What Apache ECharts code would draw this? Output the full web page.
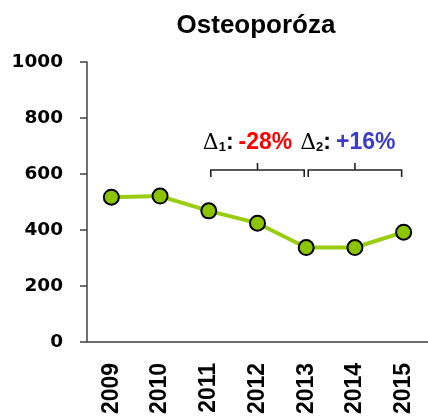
<!DOCTYPE html>
<html>
<head>
<meta charset="utf-8">
<script src="https://cdn.jsdelivr.net/npm/echarts@6/dist/echarts.min.js"></script>
<style>
  html, body { margin: 0; padding: 0; background: #fff; }
  #chart { width: 428px; height: 417px; }
</style>
</head>
<body>
<div id="chart"></div>
<script>
// data
const years = ['2009', '2010', '2011', '2012', '2013', '2014', '2015'];
const cases = [517, 521, 468, 424, 337, 337, 392];
const yTicks = [0, 200, 400, 600, 800, 1000];

// change brackets: from year -> to year, drawn at bracketLevel
const deltaFrom = ['2011', '2013'];
const deltaTo = ['2013', '2015'];
const deltaSub = ['1', '2'];
const deltaValue = ['-28%', '+16%'];
const bracketLevel = 614;

const axisColor = '#404040';
const sans = '"Liberation Sans", Arial, sans-serif';

let myChart = echarts.init(document.getElementById('chart'));

let option = {
  animation: false,
  title: {
    text: 'Osteoporóza',
    left: 251,
    textAlign: 'center',
    top: 8,
    textStyle: {
      fontFamily: sans,
      fontSize: 26,
      fontWeight: 'bold',
      color: '#000'
    }
  },
  grid: {
    left: 87,
    top: 62,
    width: 344,
    bottom: 75
  },
  xAxis: {
    type: 'category',
    data: years,
    boundaryGap: true,
    axisLine: { lineStyle: { color: axisColor, width: 1.5 } },
    axisTick: { length: 9, lineStyle: { color: axisColor, width: 1.5 } },
    axisLabel: {
      rotate: 90,
      margin: 21,
      fontFamily: sans,
      fontSize: 23,
      fontWeight: 'bold',
      color: '#000'
    },
    splitLine: { show: false }
  },
  yAxis: {
    type: 'value',
    min: yTicks[0],
    max: yTicks[yTicks.length - 1],
    interval: yTicks[1] - yTicks[0],
    axisLine: { show: true, lineStyle: { color: axisColor, width: 1.5 } },
    axisTick: { show: true, length: 7, lineStyle: { color: axisColor, width: 1.5 } },
    axisLabel: {
      margin: 24,
      formatter: v => String(v),
      fontFamily: '"DejaVu Sans", sans-serif',
      fontSize: 18.5,
      fontWeight: 'bold',
      color: '#000'
    },
    splitLine: { show: false }
  },
  series: [{
    type: 'line',
    data: cases,
    symbol: 'circle',
    symbolSize: 15,
    lineStyle: { color: '#9acc10', width: 4 },
    itemStyle: { color: '#8cc400', borderColor: '#000', borderWidth: 2 },
    z: 3
  }, {
    type: 'custom',
    silent: true,
    clip: false,
    z: 5,
    encode: { x: [0, 1], y: 2 },
    data: deltaFrom.map((f, i) => [f, deltaTo[i], bracketLevel]),
    renderItem(params, api) {
      let i = params.dataIndex;
      let p0 = api.coord([api.value(0), api.value(2)]);
      let p1 = api.coord([api.value(1), api.value(2)]);
      let x0 = p0[0] + 2, x1 = p1[0] - 2, y = p0[1];
      let cx = (x0 + x1) / 2;
      let lineStyle = { stroke: '#222', lineWidth: 1.6, fill: null };
      return {
        type: 'group',
        children: [{
          type: 'polyline',
          shape: { points: [[x0, y + 7], [x0, y], [x1, y], [x1, y + 7]] },
          style: lineStyle
        }, {
          type: 'line',
          shape: { x1: cx, y1: y, x2: cx, y2: y - 7 },
          style: lineStyle
        }, {
          type: 'text',
          x: x0 - 8,
          y: y - 16,
          style: {
            text: '{d|Δ}{s|' + deltaSub[i] + '}{c|:}{g| }{v|' + deltaValue[i] + '}',
            align: 'left',
            verticalAlign: 'bottom',
            rich: {
              d: { fontFamily: '"DejaVu Serif", serif', fontSize: 22, fill: '#000', verticalAlign: 'bottom' },
              s: { fontFamily: sans, fontSize: 13, fontWeight: 'bold', fill: '#000', verticalAlign: 'bottom' },
              c: { fontFamily: sans, fontSize: 23, fontWeight: 'bold', fill: '#000', verticalAlign: 'bottom' },
              g: { fontFamily: sans, fontSize: 23, width: 5, fill: '#000', verticalAlign: 'bottom' },
              v: { fontFamily: sans, fontSize: 23, fontWeight: 'bold', fill: i === 0 ? '#ff0000' : '#3c3cc8', verticalAlign: 'bottom' }
            }
          }
        }]
      };
    }
  }]
};

myChart.setOption(option);
</script>
</body>
</html>
